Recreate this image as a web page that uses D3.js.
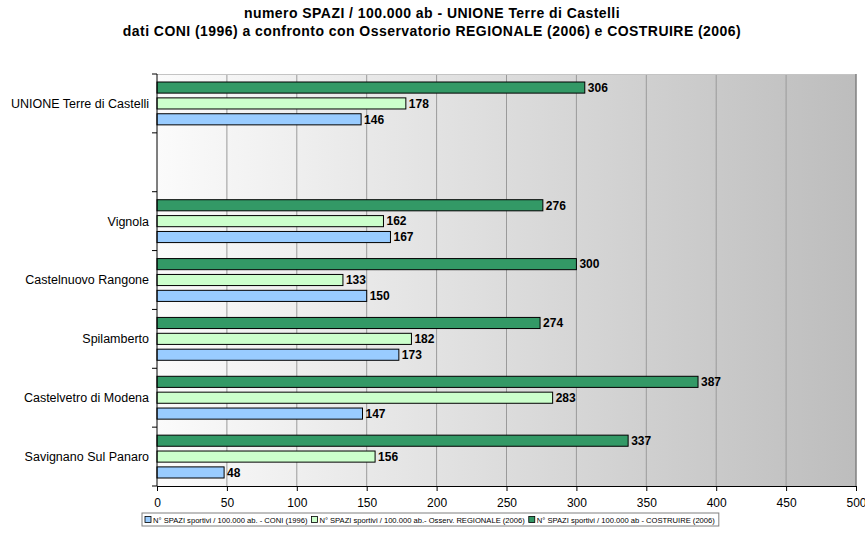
<!DOCTYPE html>
<html>
<head>
<meta charset="utf-8">
<script src="https://cdn.jsdelivr.net/npm/d3@7"></script>
<style>
    body { margin: 0; background: #fff; }
    text { font-family: "Liberation Sans", Arial, sans-serif; }
</style>
</head>
<body>
<svg id="chart" width="865" height="537"></svg>
<script>
// categorie dall'alto verso il basso (la seconda riga è vuota)
var categories = ["UNIONE Terre di Castelli", " ", "Vignola", "Castelnuovo Rangone", "Spilamberto", "Castelvetro di Modena", "Savignano Sul Panaro"];
var coni1996 = [146, null, 167, 150, 173, 147, 48];
var regionale2006 = [178, null, 162, 133, 182, 283, 156];
var costruire2006 = [306, null, 276, 300, 274, 387, 337];
var xTicks = [0, 50, 100, 150, 200, 250, 300, 350, 400, 450, 500];
var seriesNames = [
    "N° SPAZI sportivi / 100.000 ab. - CONI (1996)",
    "N° SPAZI sportivi / 100.000 ab.- Osserv. REGIONALE (2006)",
    "N° SPAZI sportivi  / 100.000 ab - COSTRUIRE (2006)"
];
var seriesColors = ["#99ccff", "#ccffcc", "#339966"];

var svg = d3.select("#chart");
var pLeft = 157, pRight = 856, pTop = 74, pBottom = 486;

var x = d3.scaleLinear().domain([0, 500]).range([pLeft, pRight]);
var y = d3.scaleBand().domain(categories).range([pTop, pBottom]);
// ordine delle barre nel gruppo: COSTRUIRE sopra, CONI sotto
var inner = d3.scaleBand().domain([2, 1, 0]).range([8, y.bandwidth() - 8]).paddingInner(0.3);

// sfondo a gradiente
var defs = svg.append("defs");
var grad = defs.append("linearGradient").attr("id", "bg").attr("x1", "0%").attr("x2", "100%").attr("y1", "0%").attr("y2", "0%");
grad.append("stop").attr("offset", "0%").attr("stop-color", "#fbfbfb");
grad.append("stop").attr("offset", "100%").attr("stop-color", "#bdbdbd");

svg.append("rect")
    .attr("x", pLeft).attr("y", pTop)
    .attr("width", pRight - pLeft).attr("height", pBottom - pTop)
    .attr("fill", "url(#bg)");

// griglia verticale
svg.append("g").selectAll("line")
    .data(xTicks.slice(1, -1))
    .enter().append("line")
    .attr("x1", function (d) { return x(d); })
    .attr("x2", function (d) { return x(d); })
    .attr("y1", pTop).attr("y2", pBottom)
    .attr("stroke", "#9a9a9a").attr("stroke-width", 1);

// bordo area
svg.append("line").attr("x1", pLeft).attr("x2", pRight).attr("y1", pTop + 0.5).attr("y2", pTop + 0.5)
    .attr("stroke", "#c4c4c4");
svg.append("line").attr("x1", pRight).attr("x2", pRight).attr("y1", pTop).attr("y2", pBottom)
    .attr("stroke", "#808080").attr("stroke-width", 1.5);

// titolo
svg.append("text").attr("x", 432).attr("y", 18).attr("text-anchor", "middle")
    .attr("font-size", 14).attr("font-weight", "bold").attr("letter-spacing", 0.45)
    .text("numero SPAZI / 100.000 ab - UNIONE Terre di Castelli");
svg.append("text").attr("x", 432).attr("y", 36).attr("text-anchor", "middle")
    .attr("font-size", 14).attr("font-weight", "bold").attr("letter-spacing", 0.45)
    .text("dati CONI (1996) a confronto con Osservatorio REGIONALE (2006) e COSTRUIRE (2006)");

// barre
var allSeries = [coni1996, regionale2006, costruire2006];
var rows = [];
categories.forEach(function (c, i) {
    allSeries.forEach(function (s, k) {
        if (s[i] != null) rows.push({cat: c, k: k, v: s[i]});
    });
});

var bars = svg.append("g");
bars.selectAll("rect")
    .data(rows)
    .enter().append("rect")
    .attr("x", x(0))
    .attr("y", function (d) { return y(d.cat) + inner(d.k); })
    .attr("width", function (d) { return x(d.v) - x(0); })
    .attr("height", inner.bandwidth())
    .attr("fill", function (d) { return seriesColors[d.k]; })
    .attr("stroke", "#000").attr("stroke-width", 1);

bars.selectAll("text")
    .data(rows)
    .enter().append("text")
    .attr("x", function (d) { return x(d.v) + 3; })
    .attr("y", function (d) { return y(d.cat) + inner(d.k) + inner.bandwidth() / 2; })
    .attr("dy", "0.36em")
    .attr("font-size", 12).attr("font-weight", "bold")
    .text(function (d) { return d.v; });

// asse x
var xAxis = svg.append("g").attr("transform", "translate(0," + pBottom + ")")
    .call(d3.axisBottom(x).tickValues(xTicks).tickSize(5).tickSizeOuter(0).tickPadding(7));
xAxis.select(".domain").attr("stroke", "#000");
xAxis.selectAll("text").attr("font-size", 12).attr("font-family", "Liberation Sans, Arial, sans-serif");

// asse y (tacche tra le categorie)
var yAxis = svg.append("g");
yAxis.append("line").attr("x1", pLeft).attr("x2", pLeft).attr("y1", pTop).attr("y2", pBottom).attr("stroke", "#000");
var bounds = categories.map(function (c) { return y(c); }).concat([pBottom]);
yAxis.selectAll("line.tk")
    .data(bounds)
    .enter().append("line").attr("class", "tk")
    .attr("x1", pLeft - 5).attr("x2", pLeft)
    .attr("y1", function (d) { return d; }).attr("y2", function (d) { return d; })
    .attr("stroke", "#000");
yAxis.selectAll("text")
    .data(categories)
    .enter().append("text")
    .attr("x", pLeft - 8)
    .attr("y", function (d) { return y(d) + y.bandwidth() / 2; })
    .attr("dy", "0.35em")
    .attr("text-anchor", "end")
    .attr("font-size", 12.5)
    .text(function (d) { return d; });

// legenda
var legend = svg.append("g");
var lx = 142, ly = 520;
var legBox = legend.append("rect").attr("y", ly - 7).attr("height", 13)
    .attr("fill", "#fff").attr("stroke", "#808080");
var cur = lx + 3;
seriesNames.forEach(function (name, k) {
    legend.append("rect").attr("x", cur).attr("y", ly - 3.5).attr("width", 6).attr("height", 6)
        .attr("fill", seriesColors[k]).attr("stroke", "#000").attr("stroke-width", 0.8);
    var t = legend.append("text").attr("x", cur + 8).attr("y", ly).attr("dy", "0.33em")
        .attr("font-size", 7.6).text(name);
    cur += 8 + t.node().getComputedTextLength() + 4;
});
legBox.attr("x", lx).attr("width", cur - lx);
</script>
</body>
</html>
